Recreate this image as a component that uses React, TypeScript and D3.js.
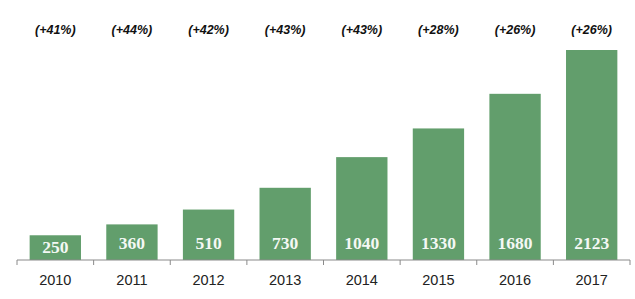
import React from "react";
import * as d3 from "d3";

const years = ["2010", "2011", "2012", "2013", "2014", "2015", "2016", "2017"];
const values = [250, 360, 510, 730, 1040, 1330, 1680, 2123];
const growth = ["(+41%)", "(+44%)", "(+42%)", "(+43%)", "(+43%)", "(+28%)", "(+26%)", "(+26%)"];

const W = 635;
const H = 299;
const left = 17;
const right = 630;
const axisY = 260;
const topY = 50;

export default function App() {
  const x = d3.scaleBand<string>().domain(years).range([left, right]).paddingInner(0.33).paddingOuter(0.165);
  const band = d3.scaleBand<string>().domain(years).range([left, right]);
  const y = d3.scaleLinear().domain([0, 2123]).range([axisY, topY]);
  const tickXs = [...years.map((yr) => band(yr)!), right];
  return (
    <svg width={W} height={H} style={{ position: "absolute", left: 0, top: 0, background: "#fff" }}>
      {values.map((v, i) => (
        <rect key={years[i]} x={x(years[i])} y={y(v)} width={x.bandwidth()} height={axisY - y(v)} fill="#629e6c" />
      ))}
      <line x1={left} x2={right} y1={axisY} y2={axisY} stroke="#8a8a8a" strokeWidth={1} />
      {tickXs.map((tx, i) => (
        <line key={i} x1={tx} x2={tx} y1={axisY} y2={axisY + 5} stroke="#8a8a8a" strokeWidth={1} />
      ))}
      {values.map((v, i) => (
        <text
          key={"v" + i}
          x={x(years[i])! + x.bandwidth() / 2}
          y={Math.max(y(v) + 17.5, 249)}
          textAnchor="middle"
          fill="#f4f8f4"
          fontFamily="'Liberation Serif', 'DejaVu Serif', serif"
          fontWeight="bold"
          fontSize={17.5}
        >
          {v}
        </text>
      ))}
      {years.map((yr) => (
        <text
          key={"y" + yr}
          x={band(yr)! + band.bandwidth() / 2}
          y={285}
          textAnchor="middle"
          fill="#222"
          fontFamily="'Liberation Sans', Arial, sans-serif"
          fontSize={14.5}
        >
          {yr}
        </text>
      ))}
      {growth.map((g, i) => (
        <text
          key={"g" + i}
          x={band(years[i])! + band.bandwidth() / 2}
          y={34}
          textAnchor="middle"
          fill="#111"
          fontFamily="'Liberation Sans', Arial, sans-serif"
          fontWeight="bold"
          fontStyle="italic"
          fontSize={12.5}
        >
          {g}
        </text>
      ))}
    </svg>
  );
}
